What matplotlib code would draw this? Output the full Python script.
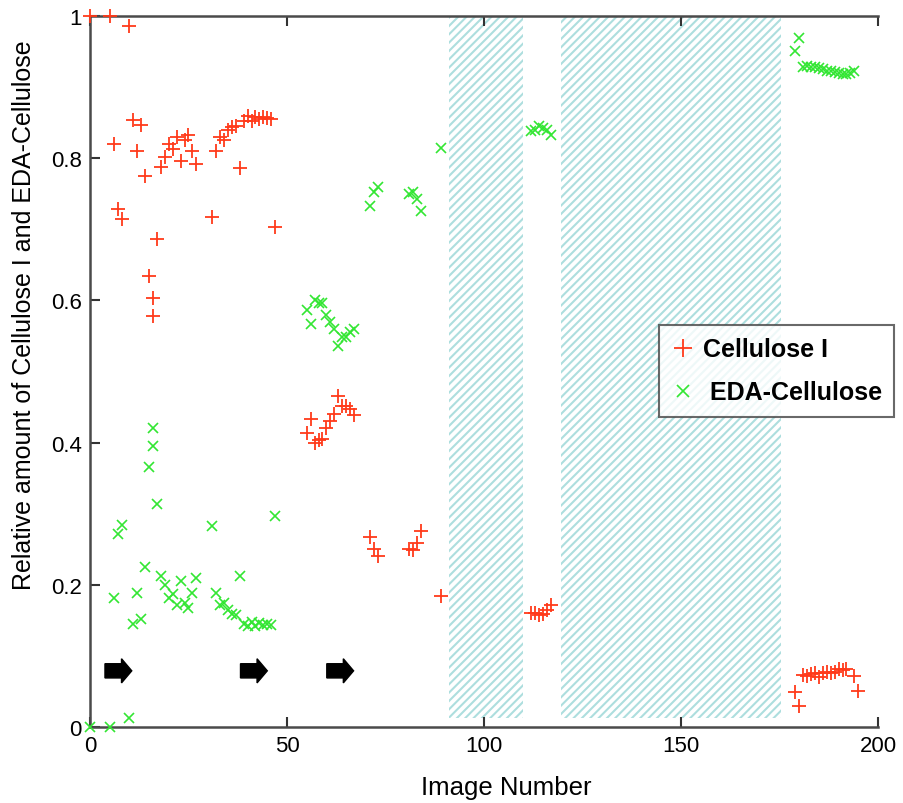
import matplotlib
matplotlib.use("Agg")
import matplotlib.pyplot as plt
from matplotlib.patches import Rectangle, FancyArrow

# ---- data ----
cell_x = [0, 5, 6, 7, 8, 10, 11, 12, 13, 14, 15, 16, 16, 17, 18, 19, 20, 21, 22, 23,
          24, 25, 26, 27, 31, 32, 33, 34, 35, 36, 37, 38, 39, 40, 41, 42, 43, 44, 45, 46,
          47, 55, 56, 57, 58, 59, 60, 61, 62, 63, 64, 65, 66, 67, 71, 72, 73, 81, 82, 83,
          84, 89, 112, 113, 114, 115, 116, 117, 179, 180, 181, 182, 183, 184, 185, 186,
          187, 188, 189, 190, 191, 192, 194, 195]
cell_y = [1.0, 1.0, 0.82, 0.729, 0.714, 0.986, 0.854, 0.81, 0.847, 0.775, 0.634, 0.603,
          0.578, 0.686, 0.787, 0.801, 0.82, 0.813, 0.83, 0.796, 0.825, 0.833, 0.81, 0.792,
          0.717, 0.81, 0.83, 0.825, 0.839, 0.844, 0.845, 0.786, 0.852, 0.86, 0.852, 0.858,
          0.855, 0.858, 0.856, 0.855, 0.703, 0.413, 0.433, 0.40, 0.404, 0.405, 0.42, 0.431,
          0.44, 0.465, 0.451, 0.452, 0.447, 0.439, 0.267, 0.25, 0.24, 0.251, 0.249, 0.259,
          0.275, 0.184, 0.16, 0.16, 0.157, 0.159, 0.164, 0.171, 0.049, 0.03, 0.073, 0.072,
          0.074, 0.076, 0.07, 0.076, 0.077, 0.076, 0.078, 0.081, 0.08, 0.081, 0.072, 0.051]

eda_x = [0, 5, 6, 7, 8, 10, 11, 12, 13, 14, 15, 16, 16, 17, 18, 19, 20, 21, 22, 23,
         24, 25, 26, 27, 31, 32, 33, 34, 35, 36, 37, 38, 39, 40, 41, 42, 43, 44, 45, 46,
         47, 55, 56, 57, 58, 59, 60, 61, 62, 63, 64, 65, 66, 67, 71, 72, 73, 81, 82, 83,
         84, 89, 112, 113, 114, 115, 116, 117, 179, 180, 181, 182, 183, 184, 185, 186,
         187, 188, 189, 190, 191, 192, 193, 194]
eda_y = [0.0, 0.0, 0.181, 0.271, 0.284, 0.013, 0.145, 0.188, 0.152, 0.225, 0.365, 0.395,
         0.42, 0.314, 0.213, 0.2, 0.182, 0.187, 0.171, 0.205, 0.175, 0.168, 0.188, 0.209,
         0.282, 0.188, 0.171, 0.175, 0.164, 0.159, 0.157, 0.213, 0.145, 0.142, 0.147, 0.142,
         0.146, 0.143, 0.145, 0.143, 0.297, 0.586, 0.567, 0.60, 0.596, 0.596, 0.579, 0.569,
         0.56, 0.536, 0.548, 0.548, 0.555, 0.56, 0.733, 0.752, 0.759, 0.75, 0.752, 0.742,
         0.726, 0.815, 0.838, 0.84, 0.845, 0.843, 0.84, 0.833, 0.951, 0.969, 0.928, 0.93,
         0.928, 0.928, 0.927, 0.925, 0.923, 0.922, 0.921, 0.92, 0.919, 0.919, 0.92, 0.923]

hatch_spans = [(91.2, 110.0), (119.5, 175.5)]
arrow_x = [3.8, 38.2, 60.1]
arrow_y = 0.079

x_ticks = [0, 50, 100, 150, 200]
y_ticks = [0, 0.2, 0.4, 0.6, 0.8, 1.0]
y_ticklabels = ["0", "0.2", "0.4", "0.6", "0.8", "1"]

fam = ["Liberation Sans", "DejaVu Sans"]

plt.rcParams["hatch.linewidth"] = 1.5

fig = plt.figure(figsize=(9.04, 8.04), dpi=100)
ax_l, ax_r, ax_t, ax_b = 90, 878, 17, 728
ax = fig.add_axes([ax_l / 904, 1 - ax_b / 804, (ax_r - ax_l) / 904, (ax_b - ax_t) / 804])

hatch_col = "#addede"
for x0, x1 in hatch_spans:
    ax.add_patch(Rectangle((x0, 0.013), x1 - x0, 0.987, facecolor="none",
                           edgecolor=hatch_col, hatch="////", linewidth=0, zorder=1))

for ax0 in arrow_x:
    ax.add_patch(FancyArrow(ax0, arrow_y, 6.8, 0, width=0.02, head_width=0.034,
                            head_length=2.6, length_includes_head=True,
                            color="black", zorder=3))

ax.plot(cell_x, cell_y, linestyle="none", marker="+", markersize=9.5, mew=1.3,
        color="#ff3a1a", label="Cellulose I", zorder=4, clip_on=False)
ax.plot(eda_x, eda_y, linestyle="none", marker="x", markersize=7, mew=1.2,
        color="#33e633", label=" EDA-Cellulose", zorder=4, clip_on=False)

ax.set_xlim(0, 200)
ax.set_ylim(0, 1)
ax.set_xticks(x_ticks)
ax.set_xticklabels([str(t) for t in x_ticks], family=fam, fontsize=16)
ax.set_yticks(y_ticks)
ax.set_yticklabels(y_ticklabels, family=fam, fontsize=16)
ax.tick_params(direction="in", length=7, width=1.5, color="#333333", top=True,
               right=False, pad=6)
for side in ["left", "bottom", "top"]:
    ax.spines[side].set_linewidth(1.8)
    ax.spines[side].set_color("#4a4a4a")
ax.spines["right"].set_visible(False)

ax.set_xlabel("Image Number", family=fam, fontsize=18.5)
ax.xaxis.set_label_coords((506 - ax_l) / (ax_r - ax_l), -(800 - ax_b) / (ax_b - ax_t))
ax.xaxis.label.set_va("bottom")
ax.set_ylabel("Relative amount of Cellulose I and EDA-Cellulose", family=fam,
              fontsize=18)
ax.yaxis.set_label_coords(-(ax_l - 12) / (ax_r - ax_l), (ax_b - 315) / (ax_b - ax_t))
ax.yaxis.label.set_va("top")

leg = ax.legend(loc="upper left", bbox_to_anchor=(659 / 904, 1 - 326 / 804),
                bbox_transform=fig.transFigure, frameon=True, fancybox=False,
                borderaxespad=0,
                prop={"family": fam, "weight": "bold", "size": 18},
                handlelength=0.9, handletextpad=0.35, borderpad=0.5, labelspacing=0.75,
                markerscale=1.3)
leg.get_frame().set_edgecolor("#444444")
leg.get_frame().set_linewidth(1.5)
leg.set_zorder(10)

fig.savefig("out.png", dpi=100)
